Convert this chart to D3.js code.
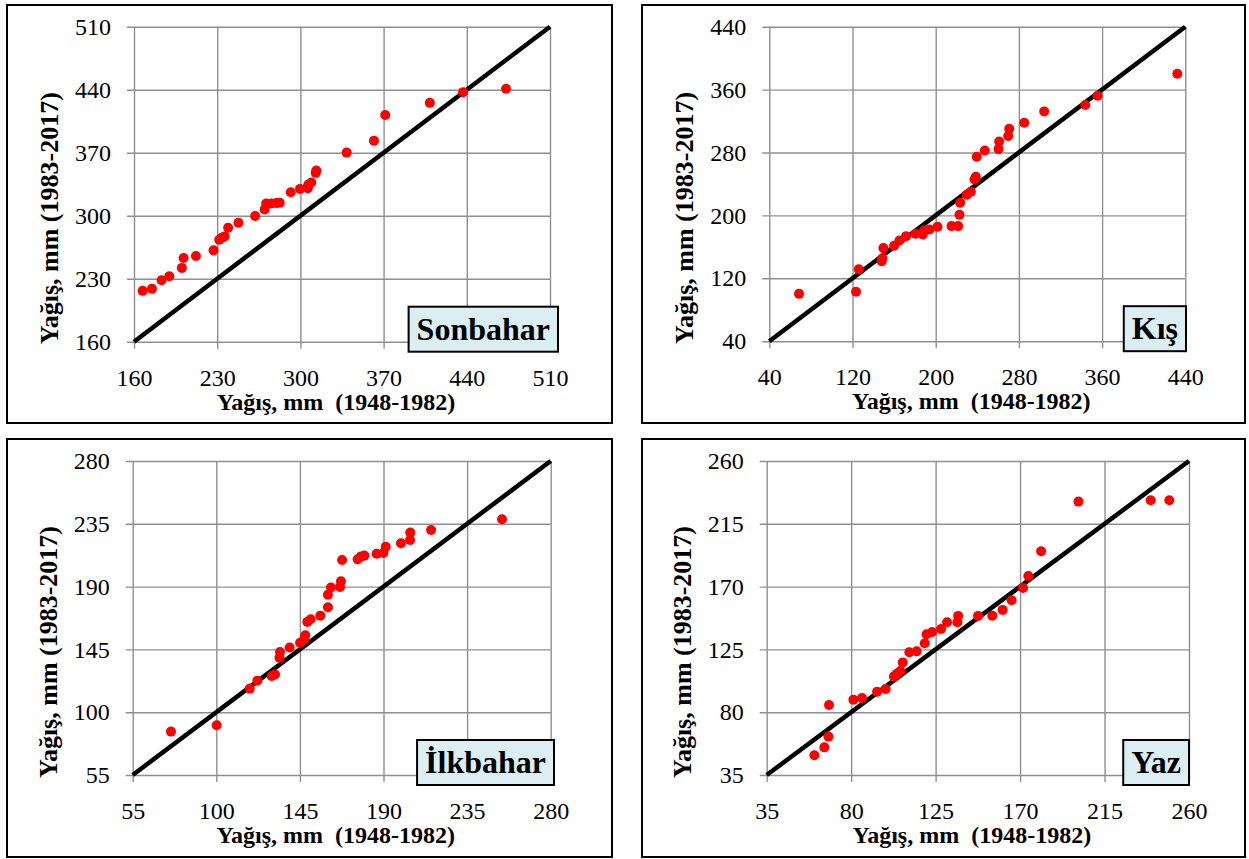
<!DOCTYPE html>
<html>
<head>
<meta charset="utf-8">
<script src="https://cdnjs.cloudflare.com/ajax/libs/d3/7.8.5/d3.min.js"></script>
<style>
  body { margin: 0; background: #fff; }
  svg text { font-family: "Liberation Serif", "Times New Roman", Times, "Nimbus Roman", "DejaVu Serif", "Noto Serif", serif !important; }
</style>
</head>
<body>
<svg id="chart" width="1249" height="859"></svg>
<script>

// Sonbahar (autumn)
var sonbaharX = [167.3,175.1,183.2,189.7,200.3,201.7,212.1,226.9,231.7,233.9,236.2,239.2,247.9,261.9,270,271.2,275.6,279.8,282.6,291.9,299.7,306.2,306.7,309.2,312.9,313.4,338.9,361.9,371.4,408.9,436.9,473];
var sonbaharY = [216.5,218.7,228.3,232.7,242,253,255.3,261.5,273.3,275.6,277,286.6,292.2,299.6,307,313.6,313.6,314,314.3,326.1,329.8,330.6,334.6,336.9,347.6,350.2,370.1,383.4,411.8,425.4,437.3,441];
var sonbaharTicks = [160,230,300,370,440,510];

// Kış (winter)
var kisX = [68.6,123.4,126,148.1,148.8,149.7,160,165.1,171.5,180.5,187.6,188.9,194,201.7,215.2,221.6,222.9,223.5,229.9,233.8,237.3,238.6,239.5,247.2,260.4,261,269.7,270.7,285.1,304.3,343.8,355.7,432.3];
var kisY = [100.2,102.8,131.6,141.8,145.6,158.4,161.3,168.1,173.6,176.6,175.7,180.8,182.1,185.5,186.4,186.4,200.8,216,226.2,230,245.7,249.1,274.6,282.6,284.3,294.1,300.9,310.2,317.9,332.3,340.3,352.2,380.2];
var kisTicks = [40,120,200,280,360,440];

// İlkbahar (spring)
var ilkbaharX = [75.6,100.2,118,122.1,129.8,131.6,134,134.3,139.5,145.1,147.4,147.9,149,150.8,156,160.1,160.1,161.7,166.6,167.1,167.7,176.1,177.7,179.7,186.3,189.9,191.2,199.4,204.3,204.4,215.6,253.8];
var ilkbaharY = [86.1,90.6,116.9,122.6,126,127.1,139.1,143.2,146.3,149.8,152.2,155.1,164.7,166.6,169.2,175.2,184.2,189.3,189.7,193.8,209.1,209.6,211.5,212.2,213.6,214.1,218.6,221,223.4,228.7,230.6,238.2];
var ilkbaharTicks = [55,100,145,190,235,280];

// Yaz (summer)
var yazX = [60.4,65.7,67.9,68.2,81.2,85.8,93.8,98.4,102.8,104.3,106.2,107.5,111,114.9,119.2,120.2,123.1,127.9,131.1,136.6,137,147.6,155.2,160.7,165.5,171.6,174.4,181.2,201.1,239.6,249.5];
var yazY = [49.1,54.8,62.5,85.2,89,90.2,94.7,96.6,105.5,107.6,109.5,115.7,122.9,123.6,129.4,135.8,137.5,139.6,144.4,144.4,149,149,149.2,153.3,160.2,169,177.6,195.3,230.9,231.9,231.9];
var yazTicks = [35,80,125,170,215,260];

var xTitle = "Yağış, mm  (1948-1982)";
var yTitle = "Yağış, mm (1983-2017)";

// frame = outer box, plot = inner plotting area
var panels = [
  { name: "Sonbahar", xs: sonbaharX, ys: sonbaharY, ticks: sonbaharTicks,
    frame: [7, 5, 605, 418], plot: [134, 26.7, 416, 315], boxRight: 558 },
  { name: "Kış", xs: kisX, ys: kisY, ticks: kisTicks,
    frame: [642, 5, 603, 418], plot: [769.3, 26.7, 416, 314.5], boxRight: 1186 },
  { name: "İlkbahar", xs: ilkbaharX, ys: ilkbaharY, ticks: ilkbaharTicks,
    frame: [7, 439, 605, 418], plot: [132.7, 461, 418, 314], boxRight: 554 },
  { name: "Yaz", xs: yazX, ys: yazY, ticks: yazTicks,
    frame: [642, 439, 603, 418], plot: [766.7, 461, 422.3, 314], boxRight: 1189 }
];

var svg = d3.select("#chart");
var tickOut = 7;

panels.forEach(function(p) {

  var px = p.plot[0], py = p.plot[1], pw = p.plot[2], ph = p.plot[3];
  var dom = d3.extent(p.ticks);

  var xScale = d3.scaleLinear().domain(dom).range([px, px + pw]);
  var yScale = d3.scaleLinear().domain(dom).range([py + ph, py]);

  // outer frame
  svg.append("rect")
    .attr("x", p.frame[0]).attr("y", p.frame[1])
    .attr("width", p.frame[2]).attr("height", p.frame[3])
    .attr("fill", "none").attr("stroke", "#000").attr("stroke-width", 2);

  // x axis + vertical grid (ticks poke out below)
  var gx = svg.append("g")
    .attr("transform", "translate(0," + (py + ph + tickOut) + ")")
    .call(d3.axisBottom(xScale).tickValues(p.ticks).tickSize(-(ph + tickOut)).tickPadding(20));

  // y axis + horizontal grid (ticks poke out left)
  var gy = svg.append("g")
    .attr("transform", "translate(" + (px - tickOut) + ",0)")
    .call(d3.axisLeft(yScale).tickValues(p.ticks).tickSize(-(pw + tickOut)).tickPadding(16));

  [gx, gy].forEach(function(g) {
    g.attr("font-family", null).attr("font-size", 24);
    g.select(".domain").remove();
    g.selectAll("line").attr("stroke", "#8f8f8f").attr("stroke-width", 1.4);
    g.selectAll("text").attr("fill", "#000");
  });

  // 1:1 line
  var line = d3.line()
    .x(function(d) { return xScale(d); })
    .y(function(d) { return yScale(d); });

  svg.append("path")
    .attr("d", line(dom))
    .attr("stroke", "#000")
    .attr("stroke-width", 4.5)
    .attr("fill", "none");

  // points
  svg.append("g").selectAll("circle")
    .data(p.xs.map(function(v, i) { return [v, p.ys[i]]; }))
    .enter()
    .append("circle")
    .attr("cx", function(d) { return xScale(d[0]); })
    .attr("cy", function(d) { return yScale(d[1]); })
    .attr("r", 5)
    .attr("fill", "#ff0000");

  // axis titles
  svg.append("text")
    .attr("x", px + pw / 2 - 6)
    .attr("y", py + ph + 68)
    .attr("text-anchor", "middle")
    .attr("font-size", 24)
    .attr("font-weight", "bold")
    .style("white-space", "pre")
    .text(xTitle);

  svg.append("text")
    .attr("transform", "translate(" + (px - 76) + "," + (py + ph / 2 + 34) + ") rotate(-90)")
    .attr("text-anchor", "middle")
    .attr("font-size", 26)
    .attr("font-weight", "bold")
    .text(yTitle);

  // season label box
  var label = svg.append("g");
  var lt = label.append("text")
    .attr("y", py + ph - 2)
    .attr("text-anchor", "middle")
    .attr("font-size", 32)
    .attr("font-weight", "bold")
    .text(p.name);
  var tw = lt.node().getComputedTextLength();
  var bw = tw + 16;
  lt.attr("x", p.boxRight - bw / 2);
  label.insert("rect", "text")
    .attr("x", p.boxRight - bw)
    .attr("y", py + ph - 35)
    .attr("width", bw)
    .attr("height", 45)
    .attr("fill", "#dbeef4")
    .attr("stroke", "#000")
    .attr("stroke-width", 2);
});

</script>
</body>
</html>
